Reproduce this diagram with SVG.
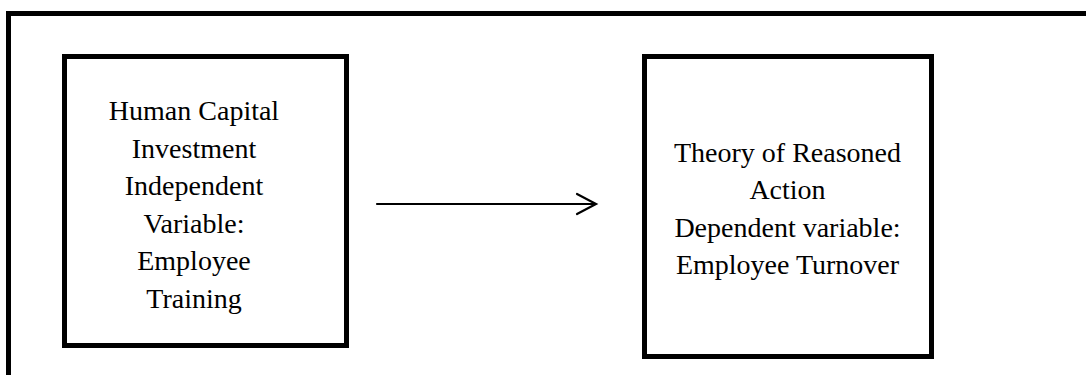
<svg xmlns="http://www.w3.org/2000/svg" width="1086" height="375" viewBox="0 0 1086 375">
<style>
.frame{fill:none;stroke:#000;stroke-width:5}
.box{fill:#fff;stroke:#000;stroke-width:5}
.t{font-family:"Liberation Serif","Times New Roman",serif;font-size:28px;fill:#000;text-anchor:middle}
.conn{fill:none;stroke:#000;stroke-width:2.2;stroke-linecap:round;stroke-linejoin:miter}
</style>
<rect width="1086" height="375" fill="#fff"/>
<path class="frame" d="M8.5,380 V13.5 H1090"/>
<g id="node-human-capital">
<rect class="box" x="64.5" y="56.5" width="282" height="289"/>
<text class="t" x="194" y="120">Human Capital</text>
<text class="t" x="194" y="157.5">Investment</text>
<text class="t" x="194" y="195">Independent</text>
<text class="t" x="194" y="232.5">Variable:</text>
<text class="t" x="194" y="270">Employee</text>
<text class="t" x="194" y="307.5">Training</text>
</g>
<g id="node-reasoned-action">
<rect class="box" x="644.5" y="56.5" width="287" height="300"/>
<text class="t" x="787.5" y="161.5">Theory of Reasoned</text>
<text class="t" x="787.5" y="199">Action</text>
<text class="t" x="787.5" y="236.5">Dependent variable:</text>
<text class="t" x="787.5" y="274">Employee Turnover</text>
</g>
<g id="connectors">
<line class="conn" x1="377" y1="204" x2="595" y2="204"/>
<polyline class="conn" points="577,194 596,204 577,214"/>
</g>
</svg>
